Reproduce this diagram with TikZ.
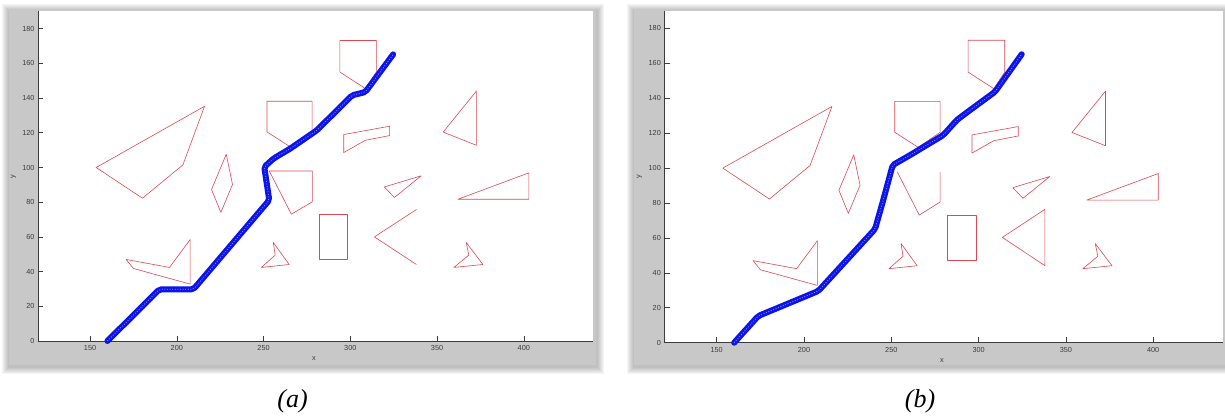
\documentclass[tikz,border=0pt]{standalone}
\usepackage{fontspec}
\setmainfont{Liberation Serif}
\newfontfamily\axfont{Liberation Sans}
\usetikzlibrary{calc}
\definecolor{obsred}{RGB}{222,72,84}
\definecolor{routeblue}{RGB}{12,20,235}
\definecolor{framegray}{RGB}{200,200,200}
\definecolor{axgray}{RGB}{60,60,60}
\tikzset{
  panelframe/.style={fill=framegray},
  panelshadow/.style={fill=black, opacity=0.04},
  plotarea/.style={fill=white},
  axline/.style={draw=axgray, line width=0.6pt},
  ticklab/.style={font=\axfont\fontsize{7.3}{8}\selectfont, text=axgray, inner sep=0.5pt},
  obst/.style={draw=obsred, line width=0.6pt, line join=round},
  route/.style={draw=routeblue, line width=6pt, line join=round, line cap=round, rounded corners=2pt},
  routemark/.style={draw=routeblue!45!white, line width=0.7pt, dash pattern=on 1pt off 1.6pt, rounded corners=2pt},
  caption/.style={font=\fontsize{26}{30}\selectfont\itshape, inner sep=0pt},
}
% obstacles shared by both runs
\newcommand{\obstacles}{%
  \draw[obst] (153.5,100) -- (216,135.3) -- (203.5,101.5) -- (180.2,82.3) -- cycle;
  \draw[obst] (228.5,107.6) -- (232.1,90.2) -- (225.4,74.1) -- (220,87.3) -- cycle;
  \draw[obst] (252,138.2) -- (278,138.2) -- (278,120.5) -- (265.4,111.9) -- (252,120.5) -- cycle;
  \draw[obst] (294,173.2) -- (315,173.2) -- (315,155) -- (308.7,145.5) -- (294,155) -- cycle;
  \draw[obst] (282,47) rectangle (298.5,73);
  \draw[obst] (366.8,56.8) -- (376.4,44.1) -- (359.7,42.4) -- (368.3,49.5) -- cycle;
  \draw[obst] (255.6,56.8) -- (264.8,44.1) -- (248.7,42.4) -- (256.7,49.5) -- cycle;
  \draw[obst] (207.7,58.5) -- (195.8,42.4) -- (170.8,47) -- (175,41.8) -- (207.7,32.8) -- cycle;
  \draw[obst] (372.7,144.1) -- (353.5,120.4) -- (372.7,112.8) -- cycle;
  \draw[obst] (296.2,119) -- (322.7,123.8) -- (322.7,118.4) -- (308.7,115.7) -- (296.2,108.6) -- cycle;
  \draw[obst] (319.6,88.8) -- (340.8,95.2) -- (325.4,82.7) -- cycle;
  \draw[obst] (362,81.7) -- (402.9,96.9) -- (402.9,81.7) -- cycle;
}
\newcommand{\panelaxes}[1]{%
  \fill[plotarea] (120,0) rectangle (440,190);
  \draw[axline] (120,190) -- (120,0) -- (440,0);
  \foreach \t in {150,200,...,400}{
    \draw[axline] (\t,0) -- (\t,3);
    \node[ticklab] (xt#1\t) at (\t,-4.3) {\t};
  }
  \foreach \t in {0,20,...,180}{
    \draw[axline] (120,\t) -- (123,\t);
    \node[ticklab, anchor=east] (yt#1\t) at (118.4,\t) {\t};
  }
  \node[ticklab] (xl#1) at (279,-10.2) {x};
  \node[ticklab, rotate=90] (yl#1) at (105.8,95) {y};
}
\begin{document}
\begin{tikzpicture}[x=1pt, y=-1pt]
  \useasboundingbox (0,0) rectangle (1225,417);
  % soft shadows and gray figure frames
  \foreach \i in {1,...,7}{
    \fill[panelshadow] (9-\i,9-\i+2) rectangle (596+\i+1,365+\i+2);
    \fill[panelshadow] (634-\i,9-\i+2) rectangle (1226+\i,365+\i+2);
  }
  \fill[panelframe] (9,9) rectangle (596,365);
  \fill[panelframe] (634,9) rectangle (1226,365);

  % (a)
  \begin{scope}[shift={(38,341)}, x=1.735pt, y=1.735pt, shift={(-120,0)}]
    \panelaxes{a}
    \obstacles
    \draw[obst] (253.3,98) -- (278.1,98) -- (278.1,80.2) -- (266,73.1) -- cycle;
    \draw[obst] (338.1,75.8) -- (313.9,60) -- (338.1,44.1);
    \draw[route] (160,0) -- (190,29.8) -- (209.6,29.8) -- (253.3,81.2) -- (250.4,100.3)
      -- (255.8,105.2) -- (265.4,110.9) -- (280.8,121.5) -- (301,141.6) -- (308.7,143.5) -- (324.7,165.2);
    \draw[routemark] (160,0) -- (190,29.8) -- (209.6,29.8) -- (253.3,81.2) -- (250.4,100.3)
      -- (255.8,105.2) -- (265.4,110.9) -- (280.8,121.5) -- (301,141.6) -- (308.7,143.5) -- (324.7,165.2);
  \end{scope}

  % (b)
  \begin{scope}[shift={(664.3,342.7)}, x=1.746pt, y=1.746pt, shift={(-120,0)}]
    \panelaxes{b}
    \obstacles
    \draw[obst] (253.4,97.9) -- (266,73.1) -- (278,80.6) -- (278,97.9);
    \draw[obst] (338,76.4) -- (313.6,60.3) -- (338,44.1) -- cycle;
    \draw[route] (160,0) -- (173.8,15.3) -- (208.2,29.6) -- (240.7,65.1) -- (245.4,81.7) -- (250.8,101.7)
      -- (260.7,107.4) -- (279.8,118.9) -- (287.5,127.5) -- (295.1,133.2) -- (309.4,143.7) -- (324.7,165.2);
    \draw[routemark] (160,0) -- (173.8,15.3) -- (208.2,29.6) -- (240.7,65.1) -- (245.4,81.7) -- (250.8,101.7)
      -- (260.7,107.4) -- (279.8,118.9) -- (287.5,127.5) -- (295.1,133.2) -- (309.4,143.7) -- (324.7,165.2);
  \end{scope}

  \node[caption] (capa) at (292.5,401) {(a)};
  \node[caption] (capb) at (920,401) {(b)};
\end{tikzpicture}
\end{document}
